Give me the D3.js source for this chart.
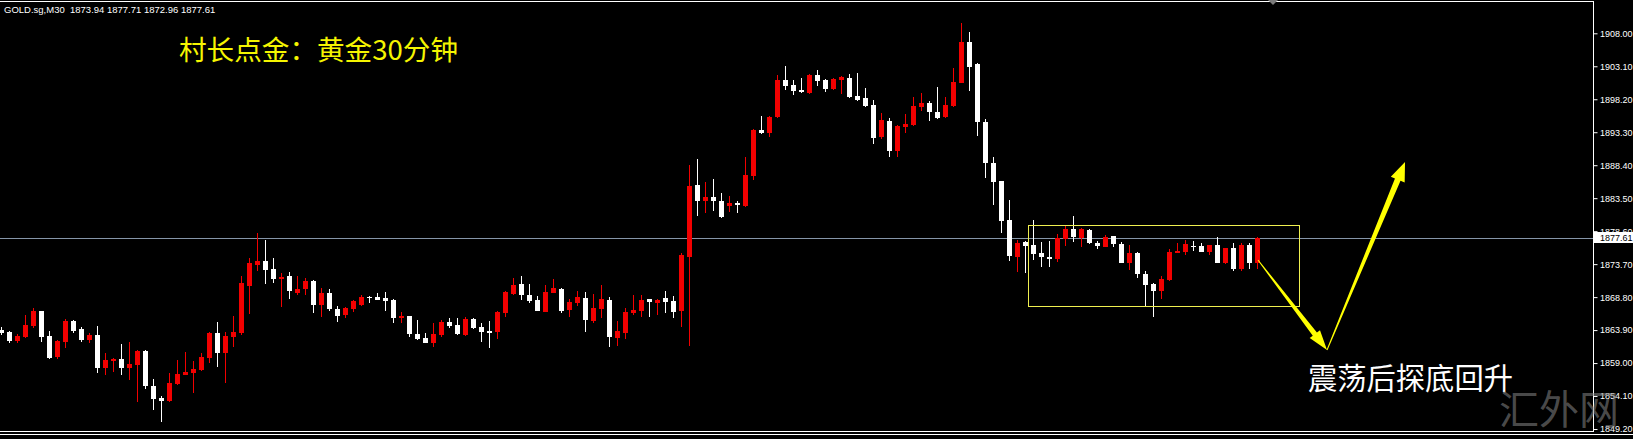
<!DOCTYPE html>
<html>
<head>
<meta charset="utf-8">
<script src="https://cdnjs.cloudflare.com/ajax/libs/d3/7.8.5/d3.min.js"></script>
<style>
  html, body { margin: 0; padding: 0; background: #000; overflow: hidden; }
  svg { display: block; }
</style>
</head>
<body>
<svg id="chart" width="1633" height="439"></svg>
<script>
// GOLD.sg M30 bars, oldest first (red = close above open)
var symbol = "GOLD.sg,M30";

var open = [1863.92,1863.62,1862.33,1862.92,1864.51,1866.74,1863.02,1859.86,1862.17,1865.25,
  1864.06,1862.43,1863.17,1858.31,1859.27,1859.65,1858.31,1858.71,1860.80,1855.59,
  1853.77,1853.37,1855.89,1857.27,1857.53,1858.02,1859.80,1863.51,1860.54,1862.92,
  1863.43,1870.50,1873.62,1874.21,1872.98,1871.54,1871.94,1869.46,1870.01,1871.20,
  1867.63,1869.46,1867.04,1866.14,1866.99,1867.63,1868.86,1868.77,1868.67,1868.37,
  1865.74,1865.99,1863.32,1862.73,1861.94,1863.17,1865.10,1864.61,1863.22,1865.51,
  1864.32,1863.77,1863.66,1866.39,1869.26,1870.75,1869.12,1868.37,1866.63,1869.46,
  1870.01,1866.89,1867.97,1868.71,1865.30,1866.99,1868.37,1862.68,1863.51,1866.49,
  1866.78,1868.48,1867.97,1868.62,1868.22,1866.78,1874.81,1885.46,1883.08,1883.72,
  1883.08,1882.34,1882.74,1882.34,1886.80,1893.63,1893.14,1895.52,1901.06,1900.32,
  1899.58,1899.17,1901.80,1901.06,1899.68,1901.06,1901.31,1898.68,1898.34,1897.35,
  1892.55,1895.01,1890.51,1894.03,1894.37,1897.01,1897.69,1896.26,1895.52,1897.20,
  1900.66,1906.75,1903.37,1894.87,1888.68,1886.05,1880.26,1874.81,1877.04,1876.55,
  1875.40,1874.81,1874.42,1877.44,1878.88,1877.54,1878.77,1876.89,1876.29,1877.88,
  1876.69,1873.92,1875.40,1872.19,1870.75,1869.75,1871.34,1875.40,1875.55,1876.40,
  1876.40,1875.55,1876.55,1873.83,1876.05,1872.93,1876.55,1873.94];

var high = [1864.32,1863.77,1863.28,1866.14,1867.11,1866.80,1863.77,1862.43,1865.51,1865.35,
  1864.32,1863.51,1864.51,1860.54,1859.75,1861.84,1862.09,1860.90,1860.90,1856.64,
  1854.11,1857.48,1859.46,1860.65,1859.35,1860.54,1863.60,1865.15,1863.66,1865.99,
  1871.94,1874.57,1878.28,1877.29,1874.66,1872.43,1872.53,1871.94,1871.69,1871.30,
  1870.11,1869.96,1867.48,1867.29,1868.37,1869.12,1868.90,1869.37,1869.56,1868.45,
  1866.54,1866.05,1865.40,1863.43,1864.91,1865.40,1865.65,1865.65,1865.89,1865.65,
  1864.91,1865.25,1866.78,1869.71,1871.69,1871.94,1870.70,1868.97,1870.60,1871.45,
  1870.11,1868.48,1869.75,1869.61,1869.26,1870.60,1868.77,1865.30,1867.14,1869.12,
  1869.12,1868.57,1868.52,1869.71,1868.97,1875.40,1888.43,1889.28,1885.95,1886.35,
  1884.23,1883.87,1883.08,1889.57,1893.74,1895.71,1895.71,1901.80,1903.14,1901.06,
  1901.31,1901.95,1902.55,1901.21,1901.40,1901.66,1901.95,1902.15,1899.83,1898.09,
  1896.20,1895.37,1894.33,1896.01,1898.58,1899.17,1897.94,1900.02,1898.58,1902.89,
  1909.58,1908.15,1903.63,1895.22,1889.66,1886.10,1883.23,1877.29,1877.10,1880.26,
  1877.04,1877.14,1878.13,1879.37,1880.85,1879.03,1878.88,1877.14,1878.03,1877.95,
  1877.04,1876.55,1875.55,1872.73,1870.85,1871.94,1875.90,1876.89,1877.29,1877.18,
  1876.80,1876.60,1877.69,1876.10,1876.80,1876.80,1876.80,1877.71];

var low = [1863.17,1862.03,1861.94,1862.73,1864.14,1862.17,1859.61,1859.56,1861.20,1863.43,
  1862.17,1861.94,1857.48,1857.23,1857.72,1857.23,1856.49,1853.26,1855.10,1852.03,
  1850.29,1853.26,1855.80,1857.18,1854.51,1857.87,1859.06,1858.37,1856.08,1861.43,
  1863.17,1866.25,1872.73,1870.75,1870.85,1867.29,1868.52,1869.12,1869.12,1866.48,
  1865.80,1866.78,1865.15,1865.65,1866.63,1867.48,1867.97,1868.30,1866.78,1865.00,
  1864.91,1862.83,1862.50,1861.95,1861.43,1862.92,1864.17,1863.17,1863.07,1864.06,
  1862.17,1861.20,1862.53,1865.80,1869.12,1868.37,1867.97,1866.70,1866.55,1869.37,
  1866.39,1865.80,1867.48,1863.66,1864.91,1865.65,1861.34,1861.58,1862.53,1866.14,
  1865.80,1865.80,1866.14,1866.39,1865.65,1864.32,1861.54,1880.85,1881.25,1881.64,
  1880.51,1881.49,1881.25,1882.20,1886.20,1893.05,1892.55,1895.37,1899.58,1898.83,
  1899.17,1898.98,1900.17,1899.32,1899.60,1898.98,1898.34,1897.99,1897.10,1891.55,
  1892.25,1889.57,1889.57,1893.14,1894.23,1896.50,1895.01,1895.27,1895.37,1897.10,
  1900.57,1899.47,1892.74,1886.57,1882.49,1878.28,1874.24,1872.58,1872.43,1874.32,
  1873.23,1873.23,1874.06,1876.40,1877.04,1876.29,1876.69,1875.90,1876.20,1876.29,
  1873.83,1872.83,1871.60,1867.48,1865.89,1868.48,1871.25,1875.31,1875.06,1875.70,
  1875.46,1875.06,1873.83,1873.72,1872.73,1872.73,1872.93,1872.96];

var close = [1863.51,1862.28,1863.02,1864.66,1866.81,1862.88,1859.71,1862.33,1865.30,1863.81,
  1862.43,1863.17,1858.31,1859.46,1859.65,1858.31,1858.86,1860.80,1855.64,1853.66,
  1853.41,1856.04,1857.38,1857.67,1858.12,1859.95,1863.51,1860.54,1863.07,1863.66,
  1870.94,1873.83,1874.21,1872.83,1871.49,1871.83,1869.71,1870.01,1871.24,1867.63,
  1869.46,1866.99,1866.04,1867.14,1868.22,1868.77,1868.67,1868.37,1868.22,1865.74,
  1865.99,1863.32,1862.58,1862.03,1863.28,1865.15,1864.51,1863.32,1865.55,1864.17,
  1863.66,1863.51,1866.54,1869.52,1870.60,1869.12,1868.27,1866.78,1869.61,1870.11,
  1866.78,1868.12,1868.86,1865.40,1867.14,1868.52,1862.92,1863.81,1866.63,1866.89,
  1868.37,1868.12,1868.37,1868.07,1866.63,1875.06,1885.31,1883.13,1883.72,1883.08,
  1880.66,1882.83,1882.49,1886.95,1893.63,1893.14,1895.61,1901.06,1900.17,1899.47,
  1899.28,1901.80,1900.96,1899.68,1901.21,1901.46,1898.49,1898.09,1897.20,1892.49,
  1895.12,1890.56,1894.23,1894.52,1897.20,1897.69,1896.26,1895.42,1897.35,1900.81,
  1906.75,1903.04,1894.87,1888.73,1885.95,1880.11,1874.91,1876.89,1876.40,1875.21,
  1874.72,1874.51,1877.54,1878.92,1877.78,1878.88,1876.89,1876.40,1877.69,1876.65,
  1873.92,1875.40,1872.19,1870.60,1869.75,1871.54,1875.55,1875.70,1876.69,1876.29,
  1875.55,1876.55,1873.92,1876.05,1872.93,1876.55,1873.83,1877.61];

// right price scale labels
var priceTicks = [1908.00, 1903.10, 1898.20, 1893.30, 1888.40, 1883.50, 1878.60,
  1873.70, 1868.80, 1863.90, 1859.00, 1854.10, 1849.20];

// hand-drawn objects, in bar index / price
var zoneBox = [128.3, 162.2, 1879.47, 1867.48];
var arrowPoints = [[157.06, 1874.31], [165.69, 1860.94], [175.44, 1888.87]];
var noteAnchor = [163.3, 1857.08];

var title = "村长点金：黄金30分钟";
var note = "震荡后探底回升";
var watermark = "汇外网";

var width = 1633, height = 439,
    plotRight = 1593, plotBottom = 432;

var svg = d3.select("#chart");

var n = close.length;
var bars = d3.range(n).map(function(i) {
  return {i: i, o: open[i], h: high[i], l: low[i], c: close[i]};
});

var x = d3.scaleLinear()
    .domain([0, n - 1])
    .range([1.5, 1.5 + 8 * (n - 1)]);

var y = d3.scaleLinear()
    .domain([1848.906, 1912.948])
    .range([431, 0]);

svg.append("rect").attr("width", width).attr("height", height).attr("fill", "#000");

svg.append("defs").append("clipPath").attr("id", "plotClip")
  .append("rect").attr("x", 0).attr("y", 2).attr("width", plotRight).attr("height", plotBottom - 2);

var plot = svg.append("g").attr("clip-path", "url(#plotClip)");

// last price line
var last = close[n - 1];
plot.append("line")
    .attr("x1", 0).attr("x2", plotRight)
    .attr("y1", Math.round(y(last)) + 0.5).attr("y2", Math.round(y(last)) + 0.5)
    .attr("stroke", "#8595a8").attr("stroke-width", 1);

var candles = plot.append("g").attr("shape-rendering", "crispEdges")
  .selectAll("g")
  .data(bars)
  .enter().append("g")
    .attr("fill", function(d) { return d.c > d.o ? "#f20000" : "#ffffff"; });

candles.append("rect")
    .attr("class", "wick")
    .attr("x", function(d) { return x(d.i) - 0.5; })
    .attr("width", 1)
    .attr("y", function(d) { return Math.round(y(d.h)); })
    .attr("height", function(d) { return Math.max(1, Math.round(y(d.l)) - Math.round(y(d.h))); });

candles.append("rect")
    .attr("class", "body")
    .attr("x", function(d) { return x(d.i) - 2.5; })
    .attr("width", 5)
    .attr("y", function(d) { return Math.round(y(Math.max(d.o, d.c))); })
    .attr("height", function(d) {
      return Math.max(1, Math.round(y(Math.min(d.o, d.c))) - Math.round(y(Math.max(d.o, d.c))));
    });

// range box
plot.append("rect")
    .attr("x", Math.round(x(zoneBox[0])) + 0.5)
    .attr("y", Math.round(y(zoneBox[2])) + 0.5)
    .attr("width", Math.round(x(zoneBox[1]) - x(zoneBox[0])))
    .attr("height", Math.round(y(zoneBox[3]) - y(zoneBox[2])))
    .attr("fill", "none")
    .attr("stroke", "#f0f050")
    .attr("stroke-width", 1);

// tapered arrows
function arrowShape(p0, p1, w0, w1, headLen, headHalf) {
  var dx = p1[0] - p0[0], dy = p1[1] - p0[1], len = Math.hypot(dx, dy);
  var ux = dx / len, uy = dy / len, nx = -uy, ny = ux;
  var bx = p1[0] - ux * headLen, by = p1[1] - uy * headLen;
  return [
    [p0[0] + nx * w0, p0[1] + ny * w0],
    [bx + nx * w1, by + ny * w1],
    [bx + nx * headHalf, by + ny * headHalf],
    p1,
    [bx - nx * headHalf, by - ny * headHalf],
    [bx - nx * w1, by - ny * w1],
    [p0[0] - nx * w0, p0[1] - ny * w0]
  ];
}

var pts = arrowPoints.map(function(p) { return [x(p[0]), y(p[1])]; });
svg.append("path")
    .attr("d", d3.line()(arrowShape(pts[0], pts[1], 0.5, 2.6, 20, 6.5)) + "Z")
    .attr("fill", "#ffff00");
svg.append("path")
    .attr("d", d3.line()(arrowShape(pts[1], pts[2], 0.5, 3, 19, 7.5)) + "Z")
    .attr("fill", "#ffff00");

// frame
var frame = svg.append("g").attr("stroke", "#ffffff").attr("stroke-width", 1).attr("shape-rendering", "crispEdges");
frame.append("line").attr("x1", 0).attr("x2", plotRight + 0.5).attr("y1", 1.5).attr("y2", 1.5);
frame.append("line").attr("x1", plotRight + 0.5).attr("x2", plotRight + 0.5).attr("y1", 1).attr("y2", plotBottom);
frame.append("line").attr("x1", 0).attr("x2", plotRight + 0.5).attr("y1", plotBottom - 0.5).attr("y2", plotBottom - 0.5);
frame.append("line").attr("x1", 0).attr("x2", width).attr("y1", plotBottom + 2.5).attr("y2", plotBottom + 2.5);

// shift marker
svg.append("path")
    .attr("d", "M1268,0L1278,0L1273,5Z")
    .attr("fill", "#7a7a7a");

// price axis
var axis = svg.append("g")
    .attr("transform", "translate(" + (plotRight + 0.5) + ",0)")
    .call(d3.axisRight(y)
      .tickValues(priceTicks)
      .tickFormat(d3.format(".2f"))
      .tickSize(4)
      .tickSizeOuter(0)
      .tickPadding(2.5));
axis.select(".domain").remove();
axis.selectAll("line").attr("stroke", "#ffffff");
axis.selectAll("text")
    .attr("fill", "#ffffff")
    .attr("font-family", "'Liberation Sans', Arial, sans-serif")
    .attr("font-size", 9);

// last price tag
var ly = Math.round(y(last));
svg.append("rect")
    .attr("x", plotRight + 1).attr("y", ly - 6)
    .attr("width", width - plotRight - 1).attr("height", 11)
    .attr("fill", "#ffffff");
svg.append("text")
    .attr("x", plotRight + 7).attr("y", ly)
    .attr("dy", "0.35em")
    .attr("fill", "#000")
    .attr("font-family", "'Liberation Sans', Arial, sans-serif")
    .attr("font-size", 9)
    .text(d3.format(".2f")(last));

// header line
svg.append("text")
    .attr("x", 4).attr("y", 13)
    .attr("fill", "#ffffff")
    .attr("font-family", "'Liberation Sans', Arial, sans-serif")
    .attr("font-size", 9.5)
    .attr("xml:space", "preserve")
    .text(symbol + "  " + [open[n - 1], high[n - 1], low[n - 1], close[n - 1]].map(d3.format(".2f")).join(" "));

svg.append("text")
    .attr("x", 179).attr("y", 47.5)
    .attr("dominant-baseline", "central")
    .attr("fill", "#f5f500")
    .attr("font-family", "'Noto Sans CJK SC', sans-serif")
    .attr("font-size", 27.6)
    .text(title);

svg.append("text")
    .attr("x", x(noteAnchor[0])).attr("y", y(noteAnchor[1]))
    .attr("dominant-baseline", "central")
    .attr("fill", "#ffffff")
    .attr("font-family", "'Noto Sans CJK SC', sans-serif")
    .attr("font-size", 29.3)
    .text(note);

svg.append("text")
    .attr("x", 1499).attr("y", 407)
    .attr("dominant-baseline", "central")
    .attr("fill", "#8a8a8a")
    .attr("fill-opacity", 0.55)
    .attr("font-family", "'Noto Sans CJK SC', sans-serif")
    .attr("font-size", 40)
    .text(watermark);
</script>
</body>
</html>
